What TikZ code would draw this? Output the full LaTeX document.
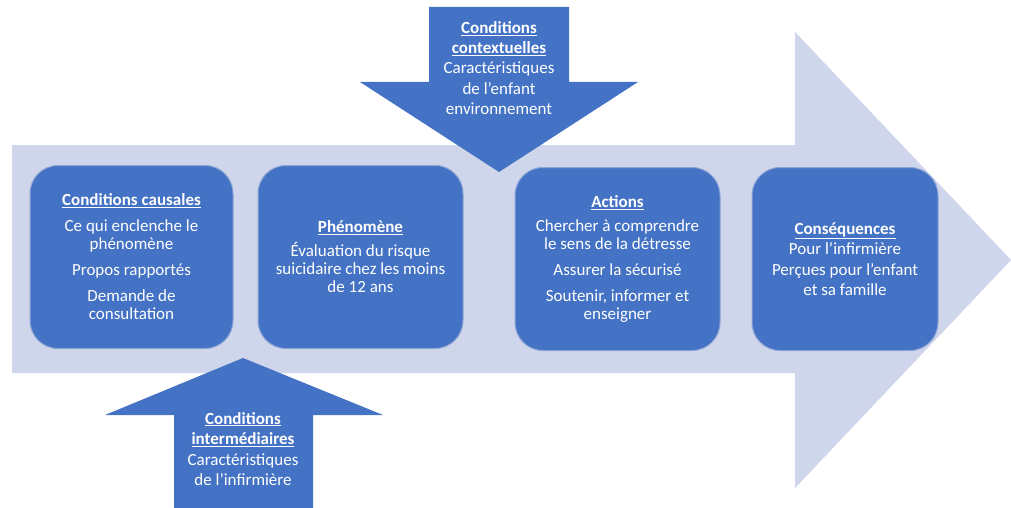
\documentclass[tikz,border=0pt]{standalone}
\usepackage{fontspec}
\setmainfont{Carlito}
\definecolor{bluefill}{RGB}{68,114,196}
\definecolor{lightfill}{RGB}{207,213,234}
\definecolor{boxedge}{RGB}{140,165,215}
\tikzset{
  bigarrow/.style={fill=lightfill,draw=none},
  bluearrow/.style={fill=bluefill,draw=none},
  stagebox/.style={fill=bluefill,draw=boxedge,line width=1pt,rounded corners=28pt,
    minimum width=#1,minimum height=183pt,inner sep=0pt},
  lbl/.style={text=white,align=center,font=\fontsize{17pt}{18pt}\selectfont,inner sep=0pt}
}
\newcommand{\ttl}[1]{\textbf{\underline{#1}}}
\begin{document}
\begin{tikzpicture}[x=1pt,y=-1pt]
\useasboundingbox (0,0) rectangle (1011,508);
% big arrow
\path[bigarrow] (12,145) -- (795,145) -- (795,32) -- (1011,260) -- (795,488) -- (795,373) -- (12,373) -- cycle;
% down arrow
\path[bluearrow] (429,7) -- (569,7) -- (569,82) -- (638,82) -- (499,172) -- (360,82) -- (429,82) -- cycle;
% up arrow
\path[bluearrow] (174,508) -- (313,508) -- (313,415) -- (383,415) -- (243,358) -- (105,415) -- (174,415) -- cycle;
% boxes
\node[stagebox=203pt] (b1) at (131.5,257) {};
\node[stagebox=205pt] (b2) at (360.5,257) {};
\node[stagebox=205pt] (b3) at (617.5,259) {};
\node[stagebox=186pt] (b4) at (845,259) {};
% texts
\node[lbl] (t1) at (b1.center) {\ttl{Conditions causales}\\[8pt]Ce qui enclenche le\\phénomène\\[8pt]Propos rapportés\\[8pt]Demande de\\consultation};
\node[lbl] (t2) at (b2.center) {\ttl{Phénomène}\\[6pt]Évaluation du risque\\suicidaire chez les moins\\de 12 ans};
\node[lbl] (t3) at (b3.center) {\ttl{Actions}\\[6pt]Chercher à comprendre\\le sens de la détresse\\[8pt]Assurer la sécurisé\\[8pt]Soutenir, informer et\\enseigner};
\node[lbl,font=\fontsize{17pt}{20.5pt}\selectfont] (t4) at (b4.center) {\ttl{Conséquences}\\Pour l’infirmière\\Perçues pour l’enfant\\et sa famille};
\node[lbl,font=\fontsize{17pt}{20.3pt}\selectfont] (t5) at (499,68) {\ttl{Conditions}\\\ttl{contextuelles}\\Caractéristiques\\de l’enfant\\environnement};
\node[lbl,font=\fontsize{17pt}{20.5pt}\selectfont] (t6) at (243,449) {\ttl{Conditions}\\\ttl{intermédiaires}\\Caractéristiques\\de l’infirmière};
\end{tikzpicture}
\end{document}
